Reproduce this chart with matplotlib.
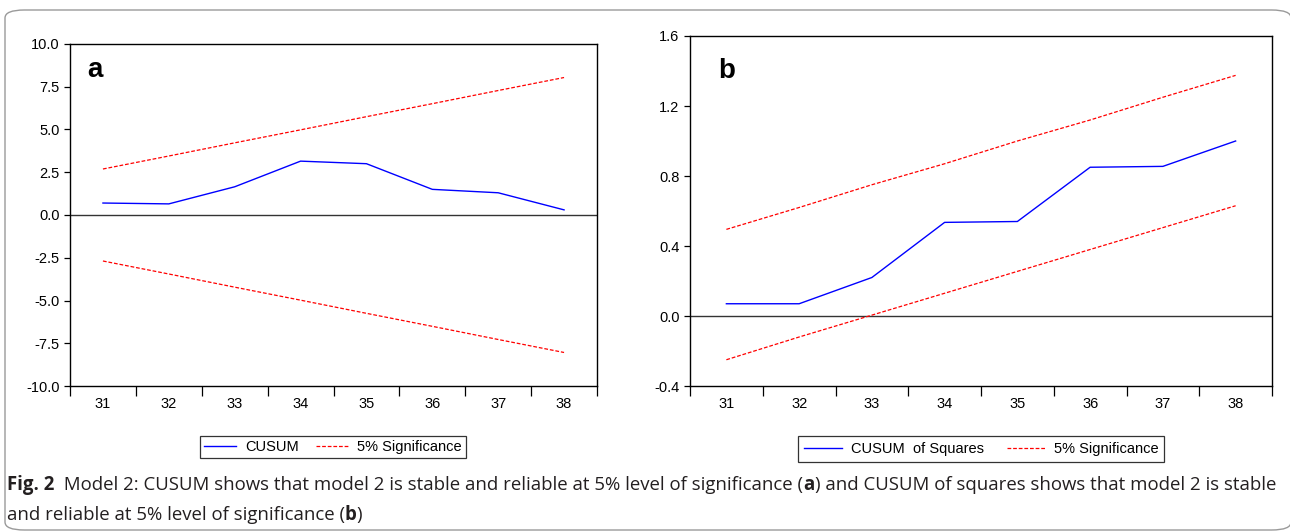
import matplotlib
matplotlib.use("Agg")
import matplotlib.pyplot as plt
from matplotlib.patches import FancyBboxPatch

# ---- data ----
periods = [31, 32, 33, 34, 35, 36, 37, 38]
cusum = [0.70, 0.65, 1.65, 3.15, 3.00, 1.50, 1.30, 0.30]
cusum_upper = [2.69, 3.45, 4.22, 4.98, 5.75, 6.51, 7.28, 8.04]
cusum_lower = [-2.69, -3.45, -4.22, -4.98, -5.75, -6.51, -7.28, -8.04]

cusumsq = [0.07, 0.07, 0.22, 0.535, 0.54, 0.85, 0.855, 1.00]
cusumsq_upper = [0.495, 0.62, 0.75, 0.87, 1.00, 1.12, 1.25, 1.375]
cusumsq_lower = [-0.25, -0.12, 0.005, 0.13, 0.255, 0.38, 0.505, 0.63]

yticks_a = [-10.0, -7.5, -5.0, -2.5, 0.0, 2.5, 5.0, 7.5, 10.0]
yticks_b = [-0.4, 0.0, 0.4, 0.8, 1.2, 1.6]

W, H = 1290, 532
fig = plt.figure(figsize=(W / 100, H / 100), dpi=100)
chart_font = "Liberation Sans"
tick_size = 10.5
DASH = (0, (3, 1.5))

# outer rounded border
fig.patches.append(FancyBboxPatch((5 / W, 2 / H), (W - 4) / W, (H - 12) / H,
                                  boxstyle="round,pad=0,rounding_size=0.015",
                                  transform=fig.transFigure, fill=False,
                                  edgecolor="#9a9a9a", linewidth=1.0, clip_on=False))


def style_axes(ax, ylim, yticks, fmt):
    ax.set_xlim(30.5, 38.5)
    ax.set_ylim(*ylim)
    ax.set_yticks(yticks)
    ax.set_yticklabels([fmt.format(v) for v in yticks], fontfamily=chart_font, fontsize=tick_size)
    ax.set_xticks([p - 0.5 for p in periods] + [38.5])
    ax.set_xticklabels([])
    ax.set_xticks(periods, minor=True)
    ax.set_xticklabels([str(p) for p in periods], minor=True, fontfamily=chart_font, fontsize=tick_size)
    ax.tick_params(axis="x", which="major", length=7, width=0.9, direction="out", color="black")
    ax.tick_params(axis="x", which="minor", length=0, pad=8)
    ax.tick_params(axis="y", length=4, width=0.9, direction="out", pad=3.5)
    for s in ax.spines.values():
        s.set_linewidth(1.0)
        s.set_color("black")
    ax.axhline(0, color="#333333", linewidth=1.0, zorder=1)


# panel a
axa = fig.add_axes([70 / W, 1 - 386 / H, (597 - 70) / W, (386 - 44) / H])
la, = axa.plot(periods, cusum, color="#0000ff", linewidth=1.0, label="CUSUM")
ua, = axa.plot(periods, cusum_upper, color="#ff0000", linewidth=0.9, linestyle=DASH,
               label="5% Significance")
axa.plot(periods, cusum_lower, color="#ff0000", linewidth=0.9, linestyle=DASH)
style_axes(axa, (-10, 10), yticks_a, "{:.1f}")
axa.text(0.032, 0.9035, "a", transform=axa.transAxes, fontsize=20, fontweight="bold",
         fontfamily=chart_font, va="baseline", ha="left")
leg_a = fig.legend(handles=[la, ua], loc="center", bbox_to_anchor=(333 / W, 1 - 447 / H),
                   ncol=2, frameon=True, fancybox=False, edgecolor="black",
                   prop={"family": chart_font, "size": tick_size}, handlelength=2.2,
                   columnspacing=1.2, handletextpad=0.6, borderpad=0.3)
leg_a.get_frame().set_linewidth(0.9)

# panel b
axb = fig.add_axes([690 / W, 1 - 386 / H, (1272 - 690) / W, (386 - 36) / H])
lb, = axb.plot(periods, cusumsq, color="#0000ff", linewidth=1.0, label="CUSUM  of Squares")
ub, = axb.plot(periods, cusumsq_upper, color="#ff0000", linewidth=0.9, linestyle=DASH,
               label="5% Significance")
axb.plot(periods, cusumsq_lower, color="#ff0000", linewidth=0.9, linestyle=DASH)
style_axes(axb, (-0.4, 1.6), yticks_b, "{:.1f}")
axb.text(0.048, 0.88, "b", transform=axb.transAxes, fontsize=20, fontweight="bold",
         fontfamily=chart_font, va="baseline", ha="left")
leg_b = fig.legend(handles=[lb, ub], loc="center", bbox_to_anchor=(981 / W, 1 - 449 / H),
                   ncol=2, frameon=True, fancybox=False, edgecolor="black",
                   prop={"family": chart_font, "size": tick_size}, handlelength=2.6,
                   columnspacing=1.6, handletextpad=0.6, borderpad=0.4)
leg_b.get_frame().set_linewidth(0.9)

# caption with bold runs
cap_font = ["Open Sans", "DejaVu Sans"]
line1 = [("Fig. 2", "bold"), ("  Model 2: CUSUM shows that model 2 is stable and reliable at 5% level of significance (", "normal"),
         ("a", "bold"), (") and CUSUM of squares shows that model 2 is stable", "normal")]
line2 = [("and reliable at 5% level of significance (", "normal"), ("b", "bold"), (")", "normal")]

renderer = fig.canvas.get_renderer()


def draw_runs(runs, x0, y, size):
    x = x0
    arts = []
    for txt, wt in runs:
        t = fig.text(x / W, 1 - y / H, txt, fontsize=size, fontweight=wt, fontfamily=cap_font,
                     color="#231f20", va="baseline", ha="left")
        bb = t.get_window_extent(renderer=renderer)
        x += bb.width
        arts.append(t)
    return x, arts


# fit size so line1 spans ~7..1276 px
end, arts = draw_runs(line1, 7, 490, 12)
for a in arts:
    a.remove()
size = 12 * (1276 - 7) / (end - 7)
draw_runs(line1, 7, 490, size)
draw_runs(line2, 7, 520, size)

fig.savefig("out.png", dpi=100)
